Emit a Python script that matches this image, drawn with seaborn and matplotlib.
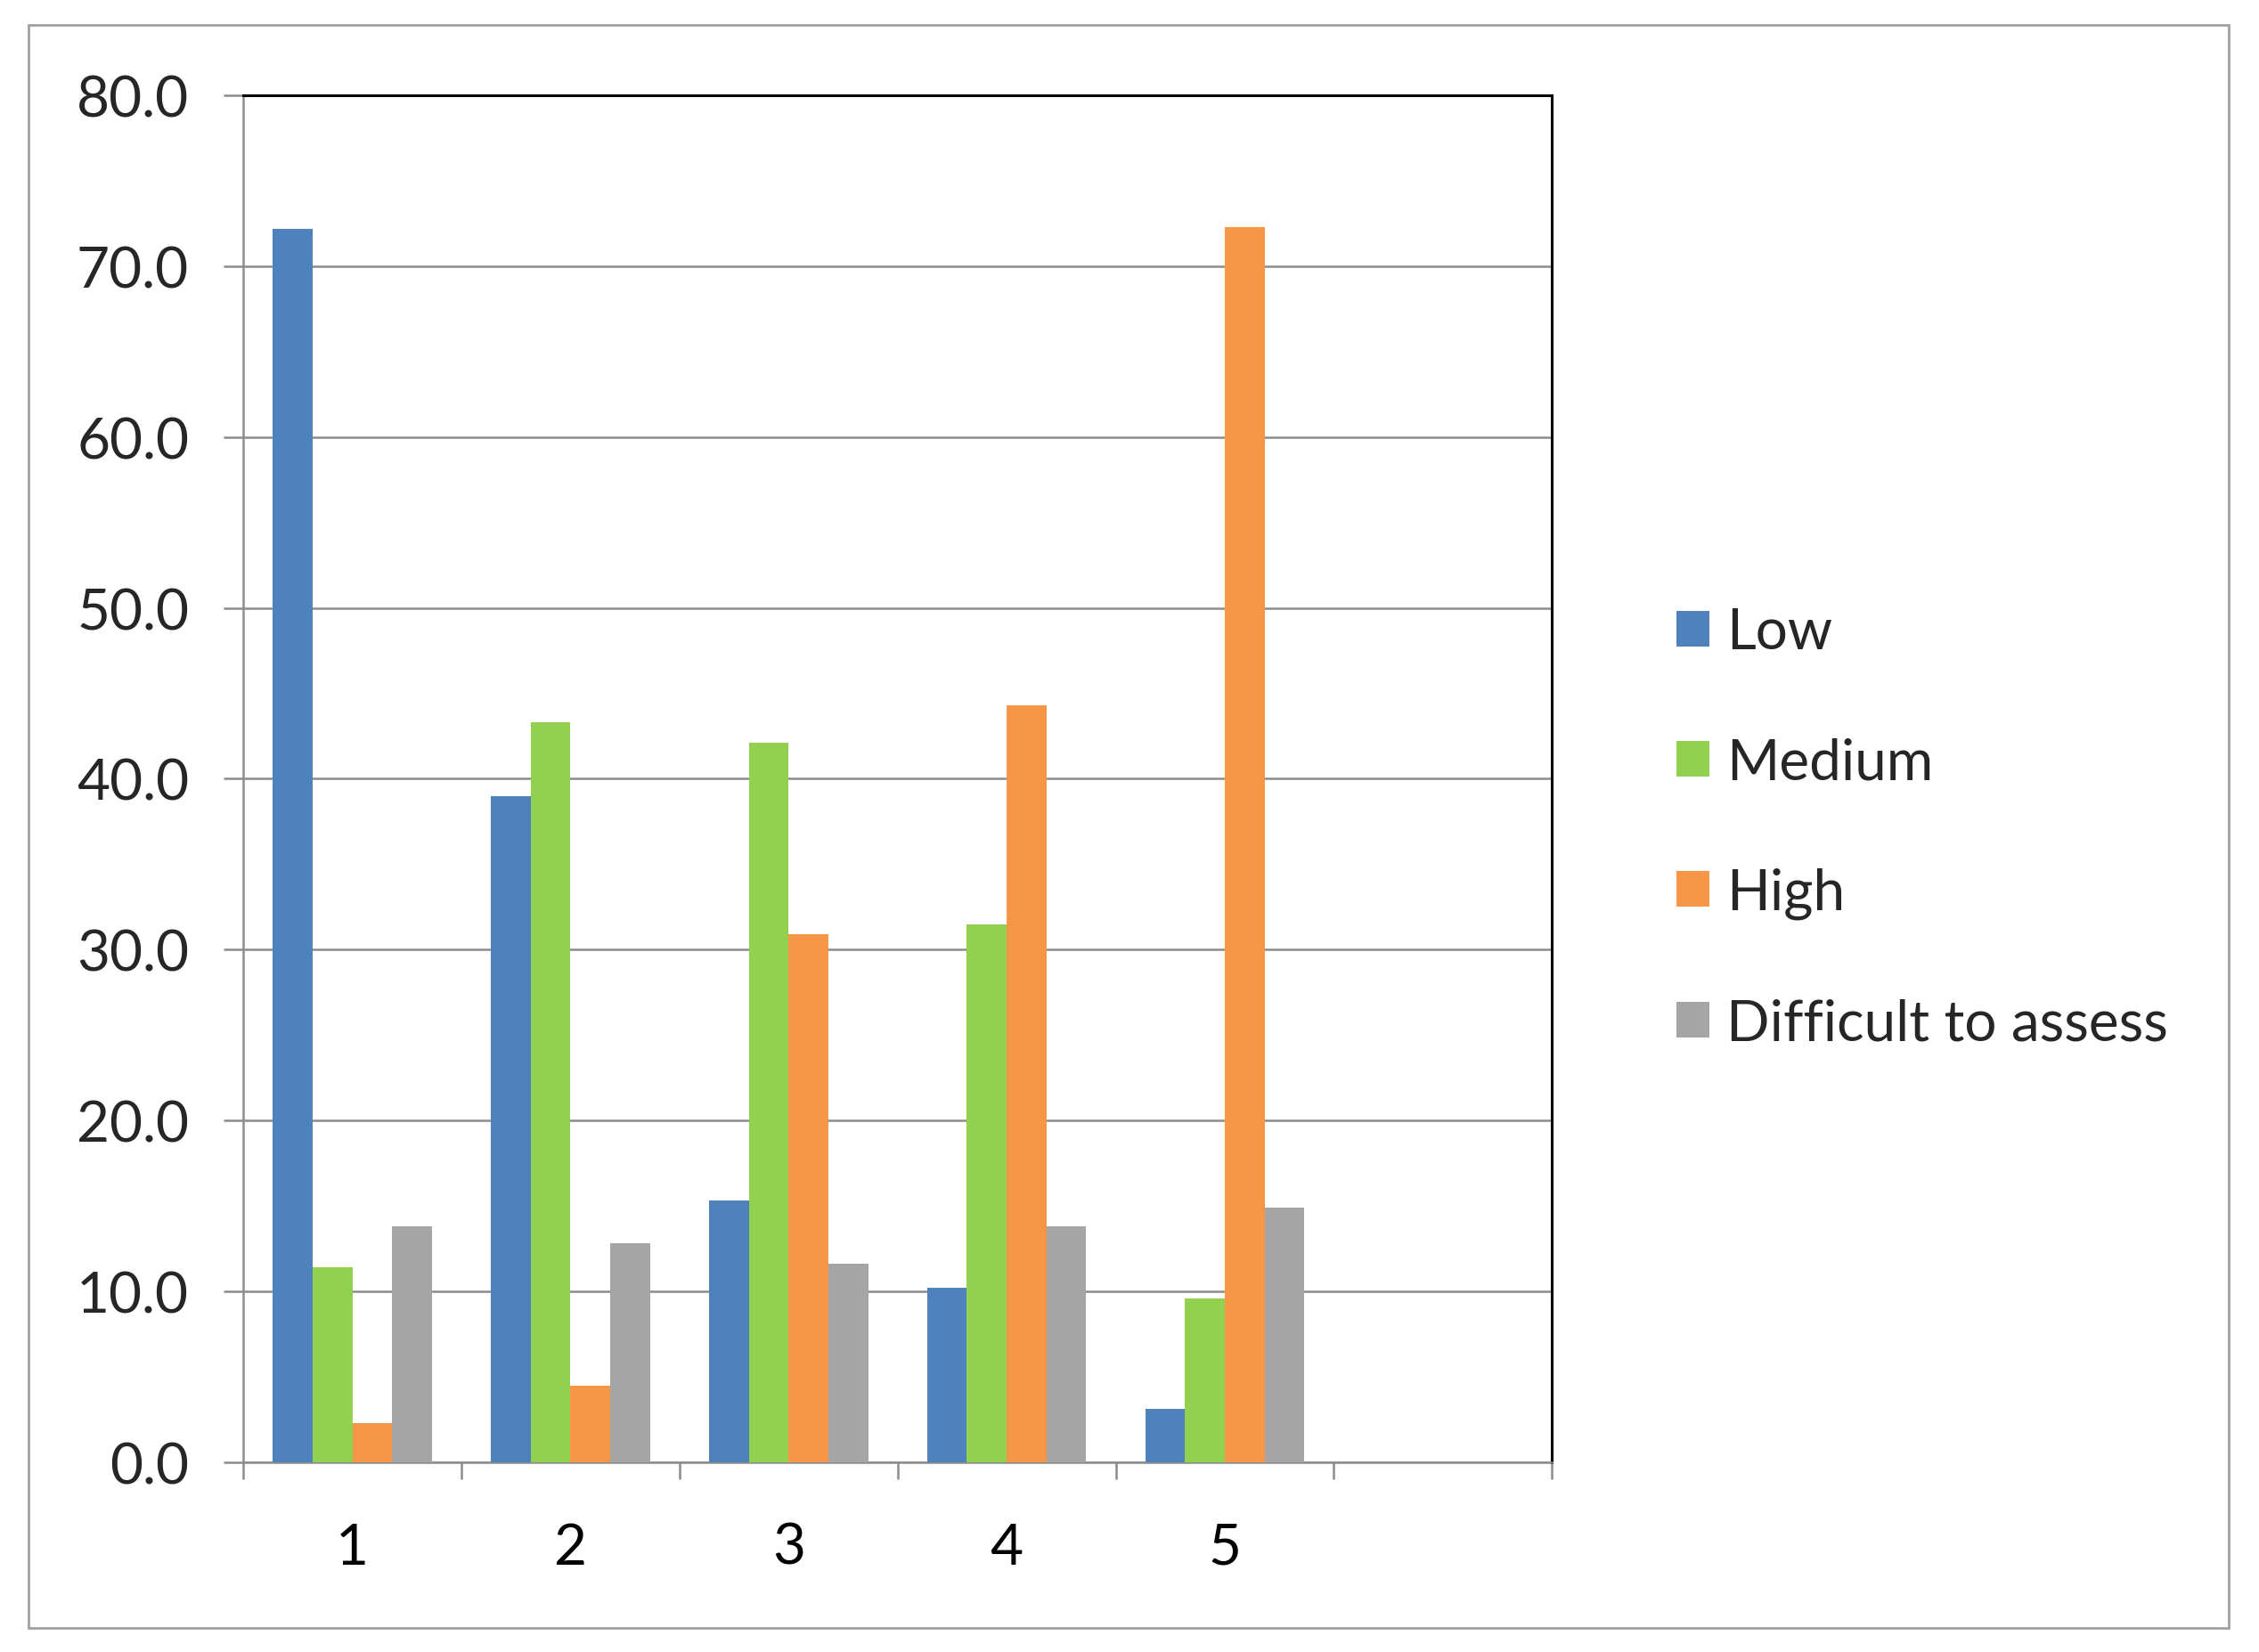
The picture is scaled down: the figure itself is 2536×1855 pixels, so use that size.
import matplotlib
matplotlib.use("Agg")
import matplotlib.pyplot as plt
import seaborn as sns
import pandas as pd
from matplotlib.patches import Rectangle, Patch
from matplotlib.ticker import FixedLocator

categories = ["1", "2", "3", "4", "5"]
slot_order = ["1", "2", "3", "4", "5", ""]
series_names = ["Low", "Medium", "High", "Difficult to assess"]
low = [72.2, 39.0, 15.3, 10.2, 3.1]
medium = [11.4, 43.3, 42.1, 31.5, 9.6]
high = [2.3, 4.5, 30.9, 44.3, 72.3]
difficult = [13.8, 12.8, 11.6, 13.8, 14.9]
y_ticks = [0, 10, 20, 30, 40, 50, 60, 70, 80]
colors = ["#4F81BD", "#92D050", "#F79646", "#A5A5A5"]

rows = []
for name, vals in zip(series_names, [low, medium, high, difficult]):
    for c, v in zip(categories, vals):
        rows.append({"cat": c, "series": name, "value": v})
df = pd.DataFrame(rows)

sns.set_style("white")
plt.rcParams["font.family"] = ["Lato", "DejaVu Sans"]

fig = plt.figure(figsize=(12.68, 9.28), dpi=200)
ax = fig.add_axes([0.1077, 0.1148, 0.687 - 0.1077, 0.9418 - 0.1148])

sns.barplot(data=df, x="cat", y="value", hue="series", order=slot_order,
            hue_order=series_names, palette=colors, width=0.73,
            saturation=1, errorbar=None, ax=ax, legend=False, zorder=3,
            linewidth=0, edgecolor="none")

grid_c = "#8C8C8C"
ax.set_xlim(-0.5, 5.5)
ax.set_ylim(0, 80)
ax.set_yticks(y_ticks)
ax.set_yticklabels([f"{t:.1f}" for t in y_ticks])
ax.yaxis.grid(True, color=grid_c, linewidth=0.9, zorder=0)
ax.set_axisbelow(True)
ax.set_xlabel("")
ax.set_ylabel("")

ax.set_xticks(range(5))
ax.set_xticklabels(categories)
ax.xaxis.set_minor_locator(FixedLocator([i - 0.5 for i in range(7)]))
ax.tick_params(axis="x", which="major", length=0, pad=24, labelsize=23, colors="black")
ax.tick_params(axis="x", which="minor", length=7, width=0.9, color=grid_c, direction="out", bottom=True)
ax.tick_params(axis="y", which="major", length=8, width=0.9, color=grid_c, direction="out",
               pad=14, labelsize=23, left=True)

for side in ["top", "right"]:
    ax.spines[side].set_visible(True)
    ax.spines[side].set_color("black")
    ax.spines[side].set_linewidth(1.1)
for side in ["left", "bottom"]:
    ax.spines[side].set_visible(True)
    ax.spines[side].set_color(grid_c)
    ax.spines[side].set_linewidth(0.9)

handles = [Patch(facecolor=c, edgecolor="none") for c in colors]
fig.legend(handles, series_names, loc="center left", bbox_to_anchor=(0.742, 0.4985),
           frameon=False, fontsize=23, handlelength=0.58, handleheight=0.58,
           handletextpad=0.3, labelspacing=1.38, borderpad=0, borderaxespad=0)

fig.patches.append(Rectangle((0.01276, 0.0148), 0.9866 - 0.01276, 0.9843 - 0.0148,
                             transform=fig.transFigure, fill=False,
                             edgecolor="#A0A0A0", linewidth=1.0))

fig.savefig("out.png", dpi=200, facecolor="white")
